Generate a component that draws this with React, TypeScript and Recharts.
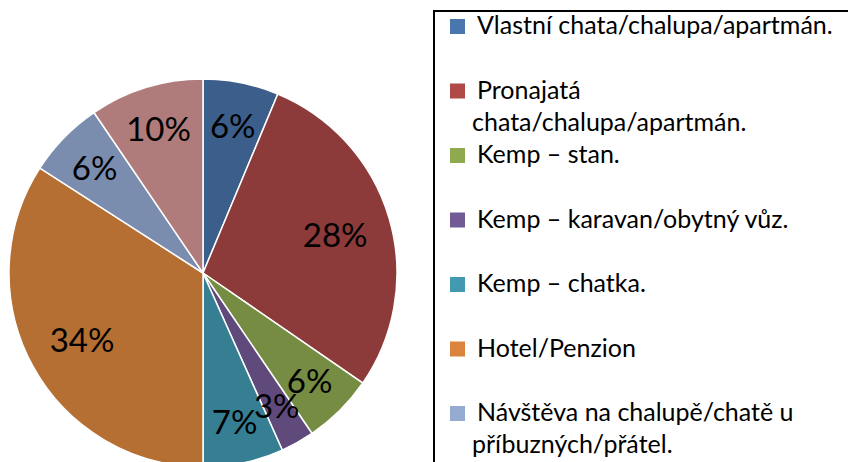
import { Cell, Legend, Pie, PieChart } from 'recharts';

const categories = [
  'Vlastní chata/chalupa/apartmán.',
  'Pronajatá\nchata/chalupa/apartmán.',
  'Kemp – stan.',
  'Kemp – karavan/obytný vůz.',
  'Kemp – chatka.',
  'Hotel/Penzion',
  'Návštěva na chalupě/chatě u\npříbuzných/přátel.',
  'Jiné.',
];
const shares = [6.3, 28.3, 5.9, 2.8, 6.7, 34.1, 6.4, 9.5];
const sliceColors = ['#3b5f8a', '#8c3a3a', '#758c42', '#5f4a7b', '#367f93', '#b56f33', '#7a8daf', '#af7b7b'];
const legendColors = ['#4a76ae', '#b04a48', '#8faa4e', '#735a94', '#4399b0', '#da843d', '#94aad1', '#c99a99'];

const data = categories.map((name, i) => ({
  name: name.replace('\n', ' '),
  value: shares[i],
}));

const FONT = 'Lato, "Open Sans", sans-serif';
const RADIAN = Math.PI / 180;

function renderLabel(props: any) {
  const { cx, cy, midAngle, outerRadius, value } = props;
  const total = shares.reduce((s, v) => s + v, 0);
  const pct = value / total;
  // big slices keep their label a bit closer to the centre
  const r = outerRadius * (pct > 0.2 ? 0.71 : 0.78);
  const x = cx + r * Math.cos(-midAngle * RADIAN);
  const y = cy + r * Math.sin(-midAngle * RADIAN);
  return (
    <text
      x={x}
      y={y}
      textAnchor="middle"
      dominantBaseline="central"
      fontFamily={FONT}
      fontSize={33}
      fill="#000"
    >
      {`${Math.round(pct * 100)}%`}
    </text>
  );
}

function LegendBox() {
  return (
    <svg width={420} height={470} style={{ display: 'block' }}>
      <rect x={1} y={1} width={440} height={480} fill="#fff" stroke="#000" strokeWidth={2} />
      {categories.map((name, i) => {
        const base = 24 + i * 64.5;
        const lines = name.split('\n');
        return (
          <g key={i}>
            <rect x={17} y={base - 15} width={15} height={15} fill={legendColors[i]} />
            {lines.map((line, j) => (
              <text
                key={j}
                x={j === 0 ? 44 : 39}
                y={base + j * 32}
                fontFamily={FONT}
                fontSize={25}
                fill="#000"
              >
                {line}
              </text>
            ))}
          </g>
        );
      })}
    </svg>
  );
}

export default function App() {
  return (
    <div style={{ position: 'absolute', left: 0, top: 0, width: 848, height: 462, background: '#fff', overflow: 'hidden' }}>
      <PieChart width={848} height={462} margin={{ top: 0, right: 0, bottom: 0, left: 0 }}>
        <Pie
          data={data}
          dataKey="value"
          nameKey="name"
          cx={203}
          cy={273}
          outerRadius={194}
          startAngle={90}
          endAngle={-270}
          stroke="#fff"
          strokeWidth={1.5}
          label={renderLabel}
          labelLine={false}
          isAnimationActive={false}
        >
          {data.map((_, i) => (
            <Cell key={i} fill={sliceColors[i]} />
          ))}
        </Pie>
        <Legend
          layout="vertical"
          align="right"
          verticalAlign="top"
          content={() => <LegendBox />}
          wrapperStyle={{ position: 'absolute', left: 433, top: 10, width: 420, height: 470 }}
        />
      </PieChart>
    </div>
  );
}
